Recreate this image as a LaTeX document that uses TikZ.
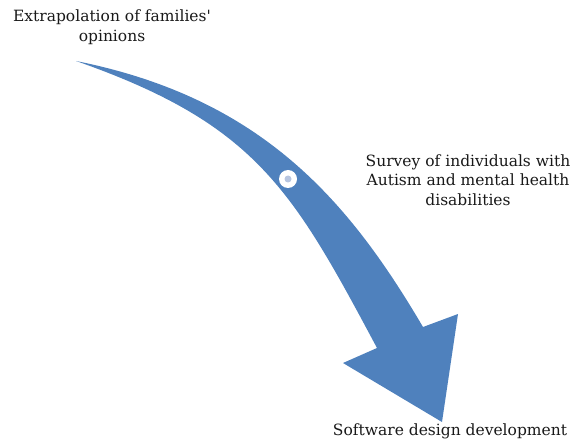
\documentclass[tikz,border=0pt]{standalone}
\usepackage{fontspec}
\setmainfont{DejaVu Serif}
\usepackage{tikz}
\usepackage{xcolor}
\definecolor{arrowblue}{HTML}{4F81BD}
\definecolor{dotgrey}{HTML}{B7C5E0}

\begin{document}
\begin{tikzpicture}[x=1pt, y=-1pt,
  txt/.style={align=center, font=\fontsize{15.5}{19.5}\selectfont, inner sep=0pt, text=black!90},
  bigarrow/.style={fill=arrowblue, draw=none},
  ring/.style={circle, fill=white, minimum size=18pt, inner sep=0pt},
  ringdot/.style={circle, fill=dotgrey, minimum size=7pt, inner sep=0pt}
]
\useasboundingbox (0,0) rectangle (572,443);
\fill[bigarrow] (76,61) .. controls (261,98) and (348,199.5) .. (423,327)
  -- (458,314) -- (442,422) -- (343,363) -- (377,348)
  .. controls (292.4,189.6) and (256,124) .. (76,61) -- cycle;
\node[ring] (stage) at (288,179) {};
\node[ringdot] (stagedot) at (stage) {};
\node[txt] (families) at (112,27) {Extrapolation of families\textquotesingle\\opinions};
\node[txt] (survey) at (468,180) {Survey of individuals with\\Autism and mental health\\disabilities};
\node[txt] (software) at (450,431) {Software design development};
\end{tikzpicture}
\end{document}
